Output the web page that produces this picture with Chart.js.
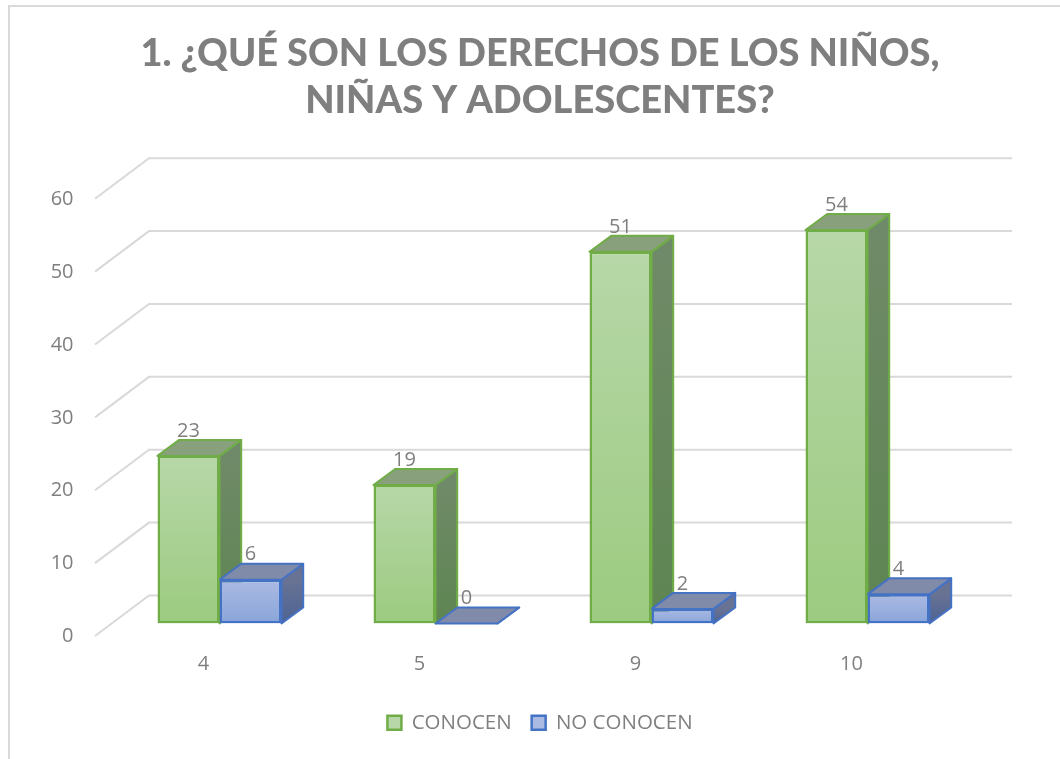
<!DOCTYPE html>
<html><head><meta charset="utf-8">
<style>html,body{margin:0;padding:0;background:#fff}#w{width:1060px;height:759px}</style>
<script src="https://cdn.jsdelivr.net/npm/chart.js@4"></script>
</head><body><div id="w"><canvas id="c"></canvas></div>
<script>
const categories = ['4','5','9','10'];
const conocen = [23,19,51,54];
const noConocen = [6,0,2,4];
const titleLines = ['1. ¿QUÉ SON LOS DERECHOS DE LOS NIÑOS,','NIÑAS Y ADOLESCENTES?'];
const yTicks = [0,10,20,30,40,50,60];
const TXT='#7f7f7f', FONT='"Open Sans"';
const DX=21.7, DY=16;
const pal=[
 {front:['#b7d7a8','#9ccb80'],side:['#6f8a68','#5e8552'],top:'#88a07b',line:'#70ad47'},
 {front:['#aabae2','#8aa5da'],side:['#687394','#4d6294'],top:'#808aa9',line:'#4472c4'}
];
function frontFill(idx){return c=>{
  const s=c.chart.scales.y;
  if(!s||c.raw===undefined) return pal[idx].front[0];
  const g=c.chart.ctx.createLinearGradient(0,s.getPixelForValue(c.raw),0,s.getPixelForValue(0));
  g.addColorStop(0,pal[idx].front[0]);g.addColorStop(1,pal[idx].front[1]);
  return g;};}
const scene={id:'scene',
 beforeDraw(ch){
  const x=ch.ctx,s=ch.scales.y;
  x.save();
  x.strokeStyle='#d9d9d9';x.lineWidth=2;
  x.beginPath();x.moveTo(9,759);x.lineTo(9,6);x.lineTo(1060,6);x.stroke();
  const back=28,bx=149,fx=95,fy=40.5;
  yTicks.forEach(v=>{const y=s.getPixelForValue(v)-back;
    x.beginPath();x.moveTo(fx,y+fy);x.lineTo(bx,y);x.lineTo(1012,y);x.stroke();});
  x.restore();
 },
 beforeDatasetsDraw(ch){
  const x=ch.ctx;
  x.save();x.lineJoin='round';
  categories.forEach((_,j)=>{
   [0,1].forEach(i=>{
    const b=ch.getDatasetMeta(i).data[j],l=b.x-b.width/2,r=b.x+b.width/2,t=b.y,bt=b.base,p=pal[i];
    const g=x.createLinearGradient(0,t,0,bt);g.addColorStop(0,p.side[0]);g.addColorStop(1,p.side[1]);
    x.strokeStyle=p.line;x.lineWidth=2;
    x.fillStyle=g;x.beginPath();x.moveTo(r,t);x.lineTo(r+DX,t-DY);x.lineTo(r+DX,bt-DY);x.lineTo(r,bt);x.closePath();x.fill();x.stroke();
    x.fillStyle=p.top;x.beginPath();x.moveTo(l,t);x.lineTo(l+DX,t-DY);x.lineTo(r+DX,t-DY);x.lineTo(r,t);x.closePath();x.fill();x.stroke();
   });
  });
  x.restore();
 },
 afterDatasetsDraw(ch){
  const x=ch.ctx;
  x.save();x.fillStyle=TXT;x.font='20px '+FONT;x.textAlign='center';x.textBaseline='middle';
  [conocen,noConocen].forEach((vals,i)=>vals.forEach((v,j)=>{
    const b=ch.getDatasetMeta(i).data[j];
    x.fillText(String(v),b.x,b.y-25);
  }));
  x.restore();
 }
};
new Chart(document.getElementById('c'),{
 type:'bar',
 data:{labels:categories,datasets:[
  {label:'CONOCEN',data:conocen,backgroundColor:frontFill(0),borderColor:pal[0].line,borderWidth:2.5,borderSkipped:false,categoryPercentage:124/216,barPercentage:1},
  {label:'NO CONOCEN',data:noConocen,backgroundColor:frontFill(1),borderColor:pal[1].line,borderWidth:2.5,borderSkipped:false,categoryPercentage:124/216,barPercentage:1}
 ]},
 options:{responsive:true,maintainAspectRatio:false,animation:false,
  layout:{padding:{left:20,right:0,top:10,bottom:16}},
  plugins:{
   title:{display:true,text:titleLines,color:TXT,font:{family:'Lato',size:38,weight:'900',lineHeight:1.24},padding:{top:20,bottom:62}},
   legend:{position:'bottom',labels:{color:TXT,font:{family:FONT,size:20.5},boxWidth:14,boxHeight:14,padding:20,
     generateLabels(ch){return ch.data.datasets.map((d,i)=>({text:d.label,fillStyle:pal[i].front[0],strokeStyle:pal[i].line,lineWidth:2.5,datasetIndex:i,fontColor:TXT}));}}},
   tooltip:{enabled:false}
  },
  scales:{
   x:{grid:{display:false},border:{display:false},ticks:{color:TXT,font:{family:FONT,size:20},padding:21,labelOffset:-16},afterFit(s){s.height=69;}},
   y:{min:0,max:60,grid:{display:false},border:{display:false},ticks:{color:TXT,font:{family:FONT,size:20},padding:30,stepSize:10,labelOffset:13},afterFit(s){s.width=91.5;}},
   rightGutter:{type:'linear',position:'right',min:0,max:60,grid:{display:false},border:{display:false},ticks:{display:false},afterFit(s){s.width=84.5;}}
  }
 },
 plugins:[scene]
});
</script></body></html>
